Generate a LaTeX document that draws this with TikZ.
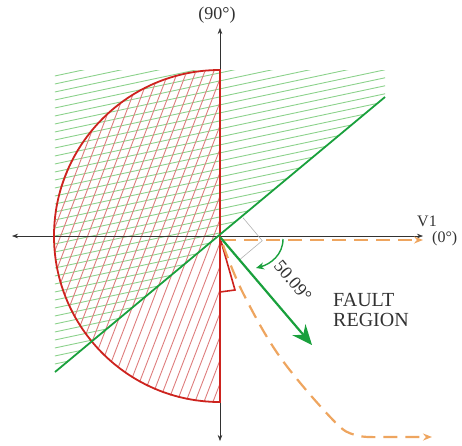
\documentclass[tikz,border=0pt]{standalone}
\usepackage{fontspec}
\setmainfont{Liberation Serif}
\usetikzlibrary{arrows.meta, calc}
\definecolor{zonered}{RGB}{205, 35, 30}
\definecolor{hatchred}{RGB}{222, 125, 125}
\definecolor{chargreen}{RGB}{25, 160, 60}
\definecolor{hatchgreen}{RGB}{140, 210, 140}
\definecolor{currorange}{RGB}{238, 165, 95}
\definecolor{axisgray}{RGB}{50, 50, 50}

\begin{document}
\begin{tikzpicture}[x=1pt, y=1pt]
  \useasboundingbox (-220,-208) rectangle (242,237);
  \coordinate (O) at (0,0);

  % --- Green hatching (above characteristic line) ---
  \begin{scope}
    \clip (-165,167) -- (165,167) -- (165,140) -- (-165,-135) -- cycle;
    \foreach \k in {-30,...,22}
      \draw[hatchgreen, line width=0.9pt] (-170,\k*8) -- ++(12:360);
  \end{scope}

  % --- Red hatching (inside half circle) ---
  \begin{scope}
    \clip (0,166) arc (90:270:166) -- cycle;
    \foreach \k in {-36,...,2}
      \draw[hatchred, line width=0.9pt] (\k*9,-170) -- ++(69:380);
  \end{scope}

  % Axes
  \draw[{Stealth[length=6pt]}-{Stealth[length=6pt]}, axisgray, line width=0.6pt]
    (0,-204) -- (0,209);
  \draw[{Stealth[length=6pt]}-{Stealth[length=6pt]}, axisgray, line width=0.6pt]
    (-208,1) -- (203,1);
  \node[font=\fontsize{18}{20}\selectfont, text=axisgray] at (-3,222) {(90°)};
  \node[font=\fontsize{16}{18}\selectfont, text=axisgray] at (207,16) {V1};
  \node[font=\fontsize{16}{18}\selectfont, text=axisgray, anchor=west,
    inner sep=0pt] at (212,-2) {(0°)};

  % Half circle zone
  \draw[zonered, line width=1.8pt] (0,167) arc (90:270:166) -- cycle;
  % Small triangle
  \draw[zonered, line width=1.6pt] (1,-4) -- (15,-53) -- (0,-55);

  % Characteristic line
  \draw[chargreen, line width=1.8pt] (-165,-135) -- (165,140);

  % Right angle marker
  \draw[gray!60, line width=0.6pt] (40:30) -- ($(40:30)+(-50:30)$) -- (-50:30);

  % Orange current trajectories
  \draw[currorange, line width=2.2pt, dash pattern=on 14pt off 8pt,
    -{Stealth[length=9pt, width=7pt]}] (2,-3) -- (203,-3);
  \draw[currorange, line width=2.2pt, dash pattern=on 14pt off 8pt,
    -{Stealth[length=9pt, width=7pt]}]
    plot[smooth, tension=0.6] coordinates {(3,-8) (23,-56) (60,-120) (113,-183) (135,-198) (160,-200)}
    -- (212,-200);

  % Fault direction
  \draw[chargreen, line width=2.2pt, -{Stealth[length=20pt, width=17pt]}]
    (O) -- (92,-108);
  \draw[chargreen, line width=1.4pt, -{Stealth[length=8pt, width=7pt]}]
    (63,-2) to[out=-90, in=15] (36,-31);
  \node[font=\fontsize{18}{20}\selectfont, text=axisgray, rotate=-50] at (73,-44) {50.09°};

  \node[font=\fontsize{20}{20}\selectfont, text=axisgray, align=left,
    anchor=north west, inner sep=0pt] at (113,-56) {FAULT\\REGION};
\end{tikzpicture}
\end{document}
